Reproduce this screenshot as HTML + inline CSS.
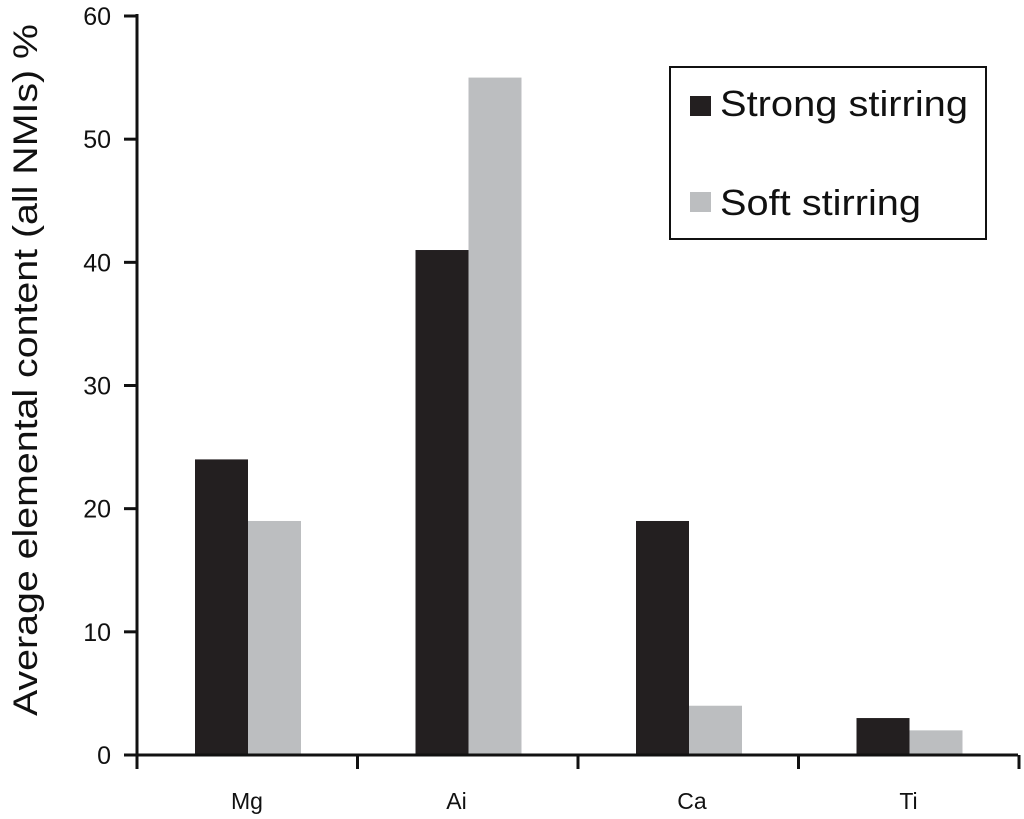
<!DOCTYPE html>
<html><head><meta charset="utf-8"><style>
body{margin:0;background:#fff;}
svg{display:block;font-family:"Liberation Sans",Arial,sans-serif;}
</style></head><body>
<svg id="chart" width="1024" height="819" viewBox="0 0 1024 819">
<g id="plot"></g>
<text transform="translate(37,370) rotate(-90)" text-anchor="middle" font-size="34" textLength="692" lengthAdjust="spacingAndGlyphs" fill="#111">Average elemental content (all NMIs) %</text>
<g>
<rect x="670" y="67" width="316" height="172" fill="#fff" stroke="#111" stroke-width="2"/>
<g>
<rect x="690" y="96" width="21" height="20" fill="#231f20"/>
<text x="720" y="116" font-size="36" textLength="248" lengthAdjust="spacingAndGlyphs" fill="#111">Strong stirring</text>
</g>
<g>
<rect x="690" y="192" width="21" height="20" fill="#bcbec0"/>
<text x="720" y="215" font-size="36" textLength="201" lengthAdjust="spacingAndGlyphs" fill="#111">Soft stirring</text>
</g>
</g>
</svg>
<script>
const categories = ["Mg", "Ai", "Ca", "Ti"];
const strongValues = [24, 41, 19, 3];
const softValues = [19, 55, 4, 2];
const yTicks = [0, 10, 20, 30, 40, 50, 60];
const labelOffsets = [0, -11, 4, 0];

const NS = "http://www.w3.org/2000/svg";
const g = document.getElementById("plot");
const x0 = 137, x1 = 1018, y0 = 755, yTop = 16, yMax = 60;
const band = 220.5;
const y = v => y0 - (v / yMax) * (y0 - yTop);
const xc = i => x0 + band * i;
function mk(tag, attrs) { const e = document.createElementNS(NS, tag); for (const k in attrs) e.setAttribute(k, attrs[k]); g.appendChild(e); return e; }

categories.forEach((c, i) => {
  const bx = xc(i) + 58, bw = 53;
  const b1 = mk("rect", { x: bx, y: y(strongValues[i]), width: bw, height: y0 - y(strongValues[i]), fill: "#231f20" });
  
  
  const b2 = mk("rect", { x: bx + bw, y: y(softValues[i]), width: bw, height: y0 - y(softValues[i]), fill: "#bcbec0" });
  
  
  const t = mk("text", { x: xc(i) + 110 + labelOffsets[i], y: 809, "text-anchor": "middle", "font-size": "23", fill: "#111" });
  t.textContent = c;
  
  
});
for (let i = 0; i <= categories.length; i++) {
  const tk = mk("line", { x1: xc(i), x2: xc(i), y1: y0, y2: 769, stroke: "#111", "stroke-width": 3 });
  
  
}
yTicks.forEach(v => {
  const tk = mk("line", { x1: 124, x2: x0, y1: y(v), y2: y(v), stroke: "#111", "stroke-width": 3 });
  
  
  const t = mk("text", { x: 111, y: y(v) + 9, "text-anchor": "end", "font-size": "25", fill: "#111" });
  t.textContent = v;
  
  
});
const ya = mk("line", { x1: x0, x2: x0, y1: yTop - 2, y2: y0 + 1, stroke: "#111", "stroke-width": 3 });


const xa = mk("line", { x1: x0 - 1, x2: x1, y1: y0, y2: y0, stroke: "#111", "stroke-width": 3 });


</script>
</body></html>
